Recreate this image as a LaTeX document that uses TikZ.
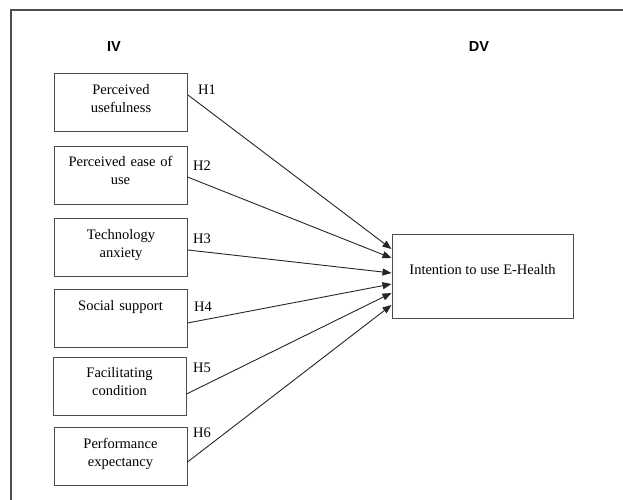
\documentclass[tikz,border=0pt]{standalone}
\usepackage{fontspec}
\setmainfont{Liberation Serif}
\newfontfamily\headfont{Liberation Sans}
\usepackage{tikz}
\usetikzlibrary{arrows.meta, positioning}
\definecolor{linegray}{rgb}{0.3,0.3,0.3}
\tikzset{
	ivbox/.style={draw=linegray, line width=1pt, minimum width=133pt, minimum height=58pt, text width=125pt, align=center, text depth=27pt, font=\fontsize{14.5}{18}\selectfont},
	dvbox/.style={draw=linegray, line width=1pt, minimum width=181pt, minimum height=84pt, align=center, text depth=13pt, font=\fontsize{14.5}{18}\selectfont},
	hyp/.style={font=\fontsize{14.5}{18}\selectfont},
	varhead/.style={font=\headfont\bfseries\fontsize{14.5}{18}\selectfont},
	link/.style={-{Triangle[length=9pt,width=7pt]}, line width=0.9pt, draw=black!85}
}
\begin{document}
\begin{tikzpicture}[x=1pt,y=-1pt]
		\useasboundingbox (0,0) rectangle (623,500);
		\draw[linegray, line width=1.4pt] (11,500) -- (11,10) -- (623,10);
		
		\node(ivhead) [varhead] at (114,47) {IV};
		\node(dvhead) [varhead] at (479,47) {DV};
		
		\node(pu)  [ivbox] at (121,102.5) {Perceived\\usefulness};
		\node(peou)[ivbox] at (120.5,175) {Perceived ease of\\use};
		\node(ta)  [ivbox] at (121,247.5) {Technology\\anxiety};
		\node(ss)  [ivbox] at (120.5,318.5) {Social support\\~};
		\node(fc)  [ivbox] at (119.5,386) {Facilitating\\condition};
		\node(pe)  [ivbox] at (120.5,456.5) {Performance\\expectancy};
		
		\node(intent) [dvbox] at (482.5,276) {Intention to use E-Health};
		
		\node(h1) [hyp] at (207,90) {H1};
		\node(h2) [hyp] at (202,166) {H2};
		\node(h3) [hyp] at (202,239) {H3};
		\node(h4) [hyp] at (203,307) {H4};
		\node(h5) [hyp] at (202,368) {H5};
		\node(h6) [hyp] at (202,433) {H6};
		
		\draw[link] ([yshift=7.5pt]pu.east) -- ([yshift=27pt]intent.west);
		\draw[link] ([yshift=-2pt]peou.east) -- ([yshift=18pt]intent.west);
		\draw[link] ([yshift=-2.5pt]ta.east) -- ([yshift=3pt]intent.west);
		\draw[link] ([yshift=-4.5pt]ss.east) -- ([yshift=-8pt]intent.west);
		\draw[link] ([yshift=-8pt]fc.east) -- ([yshift=-17pt]intent.west);
		\draw[link] ([yshift=-5.5pt]pe.east) -- ([yshift=-29pt]intent.west);
\end{tikzpicture}
\end{document}
